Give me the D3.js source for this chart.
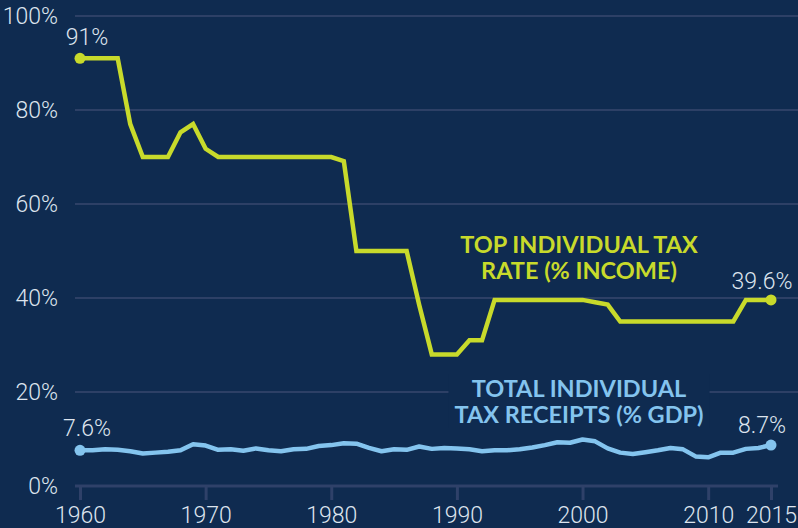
<!DOCTYPE html>
<html>
<head>
<meta charset="utf-8">
<script src="https://cdn.jsdelivr.net/npm/d3@7"></script>
<style>
  html, body { margin: 0; padding: 0; background: #0f2b50; }
  svg { display: block; }
</style>
</head>
<body>
<svg id="chart" width="798" height="528"></svg>
<script>
const years = d3.range(1960, 2016);
const topRate = [91,91,91,91,77,70,70,70,75.25,77,71.75,70,70,70,70,70,70,70,70,70,70,69.125,50,50,50,50,50,38.5,28,28,28,31,31,39.6,39.6,39.6,39.6,39.6,39.6,39.6,39.6,39.1,38.6,35,35,35,35,35,35,35,35,35,35,39.6,39.6,39.6];
const receipts = [7.6,7.6,7.8,7.7,7.4,6.9,7.1,7.3,7.6,8.9,8.6,7.7,7.8,7.5,8.0,7.6,7.4,7.8,7.9,8.5,8.7,9.1,9.0,8.1,7.4,7.8,7.7,8.4,7.9,8.1,8.0,7.8,7.4,7.6,7.6,7.8,8.2,8.7,9.3,9.2,9.9,9.5,8.0,7.1,6.8,7.2,7.6,8.1,7.8,6.3,6.1,7.1,7.1,7.9,8.1,8.7];
const yTicks = [0,20,40,60,80,100];
const xTicks = [1960,1970,1980,1990,2000,2010,2015];
const rateLabel = ["TOP INDIVIDUAL TAX", "RATE (% INCOME)"];
const receiptsLabel = ["TOTAL INDIVIDUAL", "TAX RECEIPTS (% GDP)"];

const svg = d3.select("#chart");
const W = 798, H = 528;
svg.append("rect").attr("width", W).attr("height", H).attr("fill", "#0f2b50");

const x = d3.scaleLinear().domain([1960, 2015]).range([80, 771]);
const y = d3.scaleLinear().domain([0, 100]).range([486, 16]);

const gridColor = "#2d4066";
const textColor = "#dde4ee";
const yellow = "#c8da2b";
const blue = "#84c4ee";
const lightFont = "Roboto, 'Open Sans', sans-serif";

// gridlines
svg.append("g").selectAll("line").data(yTicks.filter(d => d > 0)).join("line")
  .attr("x1", 75).attr("x2", W)
  .attr("y1", d => y(d)).attr("y2", d => y(d))
  .attr("stroke", gridColor).attr("stroke-width", 2);

// y labels
svg.append("g").selectAll("text").data(yTicks).join("text")
  .attr("x", 58).attr("y", d => y(d)).attr("dy", "0.36em")
  .attr("text-anchor", "end")
  .attr("font-family", lightFont).attr("font-weight", 300)
  .attr("font-size", 23).attr("fill", textColor)
  .text(d => d + "%");

// x axis
const xAxis = d3.axisBottom(x).tickValues(xTicks).tickFormat(d3.format("d"))
  .tickSize(14).tickPadding(7);
const gx = svg.append("g").attr("transform", `translate(0,${y(0)})`).call(xAxis);
gx.select(".domain").attr("d", `M75,0H778`).attr("stroke", "#2f4169").attr("stroke-width", 3);
gx.selectAll(".tick line").attr("stroke", "#2f4169").attr("stroke-width", 3);
gx.selectAll(".tick text")
  .attr("font-family", lightFont).attr("font-weight", 300)
  .attr("font-size", 23).attr("fill", textColor);

const labelFont = "Lato, 'Open Sans', sans-serif";
const line = d3.line().x((d, i) => x(years[i])).y(d => y(d));

svg.append("path").datum(receipts).attr("d", line)
  .attr("fill", "none").attr("stroke", blue).attr("stroke-width", 4.5)
  .attr("stroke-linejoin", "round");
svg.append("path").datum(topRate).attr("d", line)
  .attr("fill", "none").attr("stroke", yellow).attr("stroke-width", 4.5)
  .attr("stroke-linejoin", "miter");

// endpoints
[[topRate, yellow], [receipts, blue]].forEach(([s, c]) => {
  svg.append("g").selectAll("circle").data([0, s.length - 1]).join("circle")
    .attr("cx", i => x(years[i])).attr("cy", i => y(s[i])).attr("r", 5.5)
    .attr("fill", c);
});

// value labels
const valLabels = [
  {yr: 1960, v: topRate[0], t: "91%", dy: -13},
  {yr: 2015, v: topRate[topRate.length - 1], t: "39.6%", dy: -11},
  {yr: 1960, v: receipts[0], t: "7.6%", dy: -14},
  {yr: 2015, v: receipts[receipts.length - 1], t: "8.7%", dy: -12}
];
svg.append("g").selectAll("text").data(valLabels).join("text")
  .attr("x", d => x(d.yr) + (d.yr === 1960 ? 7 : -9))
  .attr("y", d => y(d.v) + d.dy)
  .attr("text-anchor", "middle")
  .attr("font-family", lightFont).attr("font-weight", 300)
  .attr("font-size", 23).attr("fill", textColor)
  .text(d => d.t);

// series labels
function seriesLabel(lines, cx, y0, color, cut) {
  const g = svg.append("g");
  const t = g.append("text").attr("text-anchor", "middle")
    .attr("font-family", labelFont).attr("font-weight", 700)
    .attr("font-size", 23.5).attr("fill", color);
  lines.forEach((l, i) => {
    t.append("tspan").attr("x", cx).attr("y", y0 + i * 26).text(l);
  });
  if (cut) {
    const bb = t.node().getBBox();
    g.insert("rect", "text").attr("x", bb.x - 6).attr("y", bb.y)
      .attr("width", bb.width + 12).attr("height", bb.height)
      .attr("fill", "#0f2b50");
  }
}
seriesLabel(rateLabel, 579, 253, yellow, false);
seriesLabel(receiptsLabel, 579, 397, blue, true);
</script>
</body>
</html>
